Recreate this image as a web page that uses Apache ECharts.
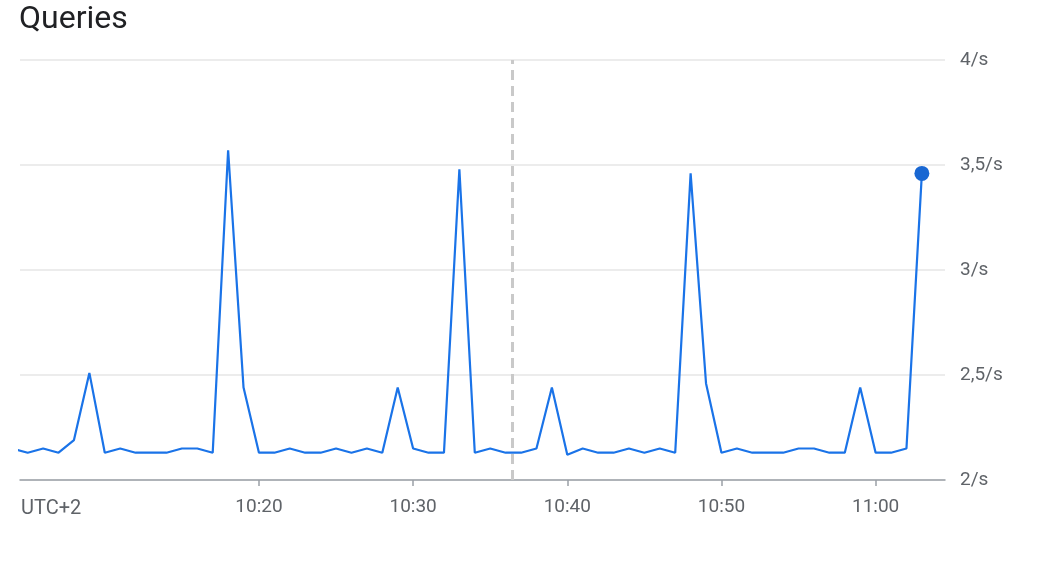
<!DOCTYPE html>
<html>
<head>
<meta charset="utf-8">
<script src="https://cdn.jsdelivr.net/npm/echarts@6/dist/echarts.min.js"></script>
<style>
html,body{margin:0;padding:0;background:#fff;}
#chart{width:1042px;height:572px;}
</style>
</head>
<body>
<div id="chart"></div>
<script>
// ---- data ----
const titleText = 'Queries';
const timezoneLabel = 'UTC+2';
const times = [
  '10:04','10:05','10:06','10:07','10:08','10:09','10:10','10:11','10:12','10:13',
  '10:14','10:15','10:16','10:17','10:18','10:19','10:20','10:21','10:22','10:23',
  '10:24','10:25','10:26','10:27','10:28','10:29','10:30','10:31','10:32','10:33',
  '10:34','10:35','10:36','10:37','10:38','10:39','10:40','10:41','10:42','10:43',
  '10:44','10:45','10:46','10:47','10:48','10:49','10:50','10:51','10:52','10:53',
  '10:54','10:55','10:56','10:57','10:58','10:59','11:00','11:01','11:02','11:03'
];
const queries = [
  2.15,2.13,2.15,2.13,2.19,2.51,2.13,2.15,2.13,2.13,
  2.13,2.15,2.15,2.13,3.57,2.44,2.13,2.13,2.15,2.13,
  2.13,2.15,2.13,2.15,2.13,2.44,2.15,2.13,2.13,3.48,
  2.13,2.15,2.13,2.13,2.15,2.44,2.12,2.15,2.13,2.13,
  2.15,2.13,2.15,2.13,3.46,2.46,2.13,2.15,2.13,2.13,
  2.13,2.15,2.15,2.13,2.13,2.44,2.13,2.13,2.15,3.46
];
const xTickLabels = ['10:20','10:30','10:40','10:50','11:00'];
const windowStart = '10:04:30';
const windowEnd = '11:04:30';
const markerTime = '10:36:24';
const yTicks = [2, 2.5, 3, 3.5, 4];

// ---- helpers ----
function toMin(t){
  const p = t.split(':').map(Number);
  return (p[0]-10)*60 + p[1] + (p[2]||0)/60;
}
function minLabel(m){
  const h = 10 + Math.floor(m/60), mm = Math.round(m%60);
  return h + ':' + (mm<10?'0':'') + mm;
}
const seriesData = times.map((t,i)=>[toMin(t), queries[i]]);
const lastIdx = seriesData.length-1;

const chart = echarts.init(document.getElementById('chart'));
chart.setOption({
  animation:false,
  backgroundColor:'#ffffff',
  title:{
    text:titleText, left:19, top:4, padding:0,
    textStyle:{fontFamily:'Roboto', fontSize:32, fontWeight:'normal', color:'#202124'}
  },
  grid:{left:20, right:97, top:60, bottom:92, containLabel:false},
  xAxis:{
    type:'value',
    min:toMin(windowStart), max:toMin(windowEnd),
    name:timezoneLabel, nameLocation:'start', nameGap:-1,
    nameTextStyle:{fontFamily:'Roboto', fontSize:20, color:'#5f6368', align:'left', verticalAlign:'top', padding:[19,0,0,0]},
    axisLine:{show:true, lineStyle:{color:'#9aa0a6', width:1.5}},
    axisTick:{show:true, length:6, lineStyle:{color:'#9aa0a6', width:1.5}, customValues:xTickLabels.map(toMin)},
    axisLabel:{
      customValues:xTickLabels.map(toMin),
      formatter:v=>minLabel(v),
      fontFamily:'Roboto', fontSize:19, color:'#5f6368', margin:18
    },
    splitLine:{show:false}
  },
  yAxis:{
    type:'value', position:'right',
    min:yTicks[0], max:yTicks[yTicks.length-1], interval:0.5,
    axisLine:{show:false}, axisTick:{show:false},
    axisLabel:{
      formatter:v=>String(v).replace('.',',')+'/s',
      fontFamily:'Roboto', fontSize:19, color:'#5f6368', margin:15
    },
    splitLine:{lineStyle:{color:'#ececec', width:2}}
  },
  series:[{
    type:'line',
    data:seriesData.map((d,i)=> i===lastIdx ? {value:d, symbol:'circle', symbolSize:15, itemStyle:{color:'#1967d2'}} : d),
    showSymbol:true,
    symbol:'none',
    lineStyle:{color:'#1a73e8', width:2.2},
    itemStyle:{color:'#1a73e8'},
    clip:true,
    z:3,
    markLine:{
      silent:true, symbol:'none', label:{show:false},
      lineStyle:{color:'#c9c9c9', type:[10,6], width:3},
      data:[{xAxis:toMin(markerTime)}]
    }
  }]
});
</script>
</body>
</html>
